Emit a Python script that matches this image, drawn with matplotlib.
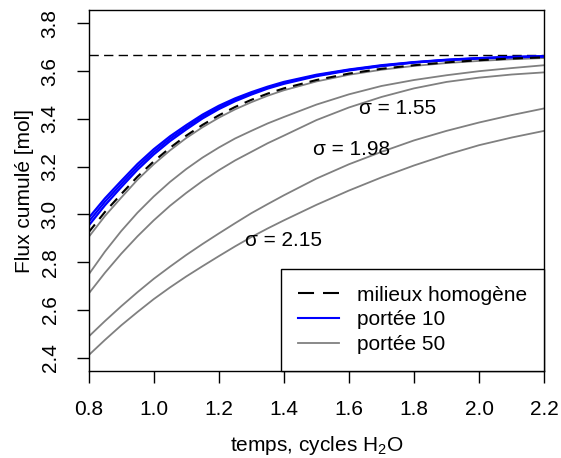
import matplotlib
matplotlib.use("Agg")
import matplotlib.pyplot as plt
from matplotlib.lines import Line2D

plt.rcParams['font.family'] = ['Liberation Sans', 'DejaVu Sans']
plt.rcParams['mathtext.fontset'] = 'custom'
plt.rcParams['mathtext.rm'] = 'Liberation Sans'
plt.rcParams['mathtext.it'] = 'Liberation Sans:italic'

# time axis (cycles H2O)
t = [0.8, 0.85, 0.9, 0.95, 1.0, 1.05, 1.1, 1.15, 1.2, 1.25, 1.3, 1.35, 1.4,
     1.5, 1.6, 1.7, 1.8, 1.9, 2.0, 2.1, 2.2]

# homogeneous medium and its asymptote
homogene = [2.925, 3.010, 3.085, 3.158, 3.222, 3.279, 3.330, 3.375, 3.415, 3.450, 3.480,
            3.506, 3.528, 3.563, 3.590, 3.610, 3.625, 3.637, 3.646, 3.653, 3.658]
asymptote = 3.667

# range 10 (blue bundle)
portee10 = [
    [2.985, 3.067, 3.140, 3.211, 3.273, 3.327, 3.374, 3.418, 3.455, 3.486, 3.512,
     3.535, 3.555, 3.585, 3.607, 3.625, 3.638, 3.648, 3.655, 3.660, 3.663],
    [2.969, 3.053, 3.127, 3.199, 3.262, 3.317, 3.365, 3.410, 3.448, 3.480, 3.507,
     3.531, 3.551, 3.582, 3.605, 3.623, 3.637, 3.647, 3.654, 3.659, 3.662],
    [2.953, 3.038, 3.114, 3.187, 3.251, 3.307, 3.356, 3.402, 3.441, 3.474, 3.502,
     3.527, 3.547, 3.579, 3.603, 3.621, 3.636, 3.646, 3.653, 3.658, 3.661],
]

# range 50 (gray)
portee50 = [
    [2.905, 2.993, 3.070, 3.145, 3.210, 3.268, 3.320, 3.365, 3.405, 3.440, 3.470,
     3.497, 3.520, 3.557, 3.585, 3.606, 3.622, 3.634, 3.643, 3.650, 3.655],
    [2.748, 2.844, 2.930, 3.007, 3.075, 3.136, 3.190, 3.238, 3.280, 3.318, 3.350,
     3.381, 3.408, 3.460, 3.503, 3.538, 3.563, 3.583, 3.600, 3.613, 3.625],
    [2.668, 2.755, 2.835, 2.908, 2.975, 3.036, 3.090, 3.140, 3.185, 3.226, 3.262,
     3.298, 3.330, 3.395, 3.448, 3.492, 3.528, 3.555, 3.573, 3.586, 3.595],
    [2.488, 2.553, 2.615, 2.674, 2.730, 2.781, 2.830, 2.876, 2.920, 2.963, 3.005,
     3.043, 3.080, 3.150, 3.210, 3.262, 3.310, 3.350, 3.385, 3.416, 3.444],
    [2.410, 2.474, 2.535, 2.591, 2.645, 2.694, 2.740, 2.783, 2.825, 2.866, 2.905,
     2.941, 2.975, 3.040, 3.100, 3.155, 3.205, 3.250, 3.290, 3.322, 3.350],
]

sigma_labels = ['σ = 1.55', 'σ = 1.98', 'σ = 2.15']
sigma_x = [1.75, 1.609, 1.398]
sigma_y = [3.444, 3.272, 2.892]

xticks = [0.8, 1.0, 1.2, 1.4, 1.6, 1.8, 2.0, 2.2]
yticks = [2.4, 2.6, 2.8, 3.0, 3.2, 3.4, 3.6, 3.8]

fig = plt.figure(figsize=(5.61, 4.58), dpi=100)
ax = fig.add_axes([0.158, 0.190, 0.812, 0.788])

ax.axhline(asymptote, color='black', lw=1.0, ls=(0, (6.7, 3.8)))
for s in portee50:
    ax.plot(t, s, color='#808080', lw=1.3, solid_joinstyle='round')
for s in portee10:
    ax.plot(t, s, color='#0000FF', lw=1.6, solid_joinstyle='round')
ax.plot(t, homogene, color='black', lw=1.5, ls=(0, (4.8, 3.4)))

for lab, x, y in zip(sigma_labels, sigma_x, sigma_y):
    ax.text(x, y, lab, fontsize=15, ha='center', va='center')

ax.set_xlim(0.8, 2.2)
ax.set_ylim(2.344, 3.856)
ax.set_xticks(xticks)
ax.set_yticks(yticks)
ax.set_xticklabels([f'{v:.1f}' for v in xticks])
ax.set_yticklabels([f'{v:.1f}' for v in yticks], rotation=90, va='center')
ax.tick_params(length=8.9, width=1.0, labelsize=15, pad=12)
for sp in ax.spines.values():
    sp.set_linewidth(1.0)

ax.set_xlabel('temps, cycles H$_2$O', fontsize=15, labelpad=11)
ax.set_ylabel('Flux cumulé [mol]', fontsize=15, labelpad=5)

handles = [Line2D([], [], color='black', lw=1.5, ls=(0, (7.7, 4.3))),
           Line2D([], [], color='#0000FF', lw=1.5),
           Line2D([], [], color='#808080', lw=1.3)]
leg = ax.legend(handles, ['milieux homogène', 'portée 10', 'portée 50'],
                loc='lower right', borderaxespad=0, fontsize=15,
                fancybox=False, edgecolor='black', framealpha=1,
                handlelength=1.95, handletextpad=0.9, borderpad=0.8,
                labelspacing=0.28)
leg.get_frame().set_linewidth(1.0)

fig.savefig('out.png', dpi=100)
